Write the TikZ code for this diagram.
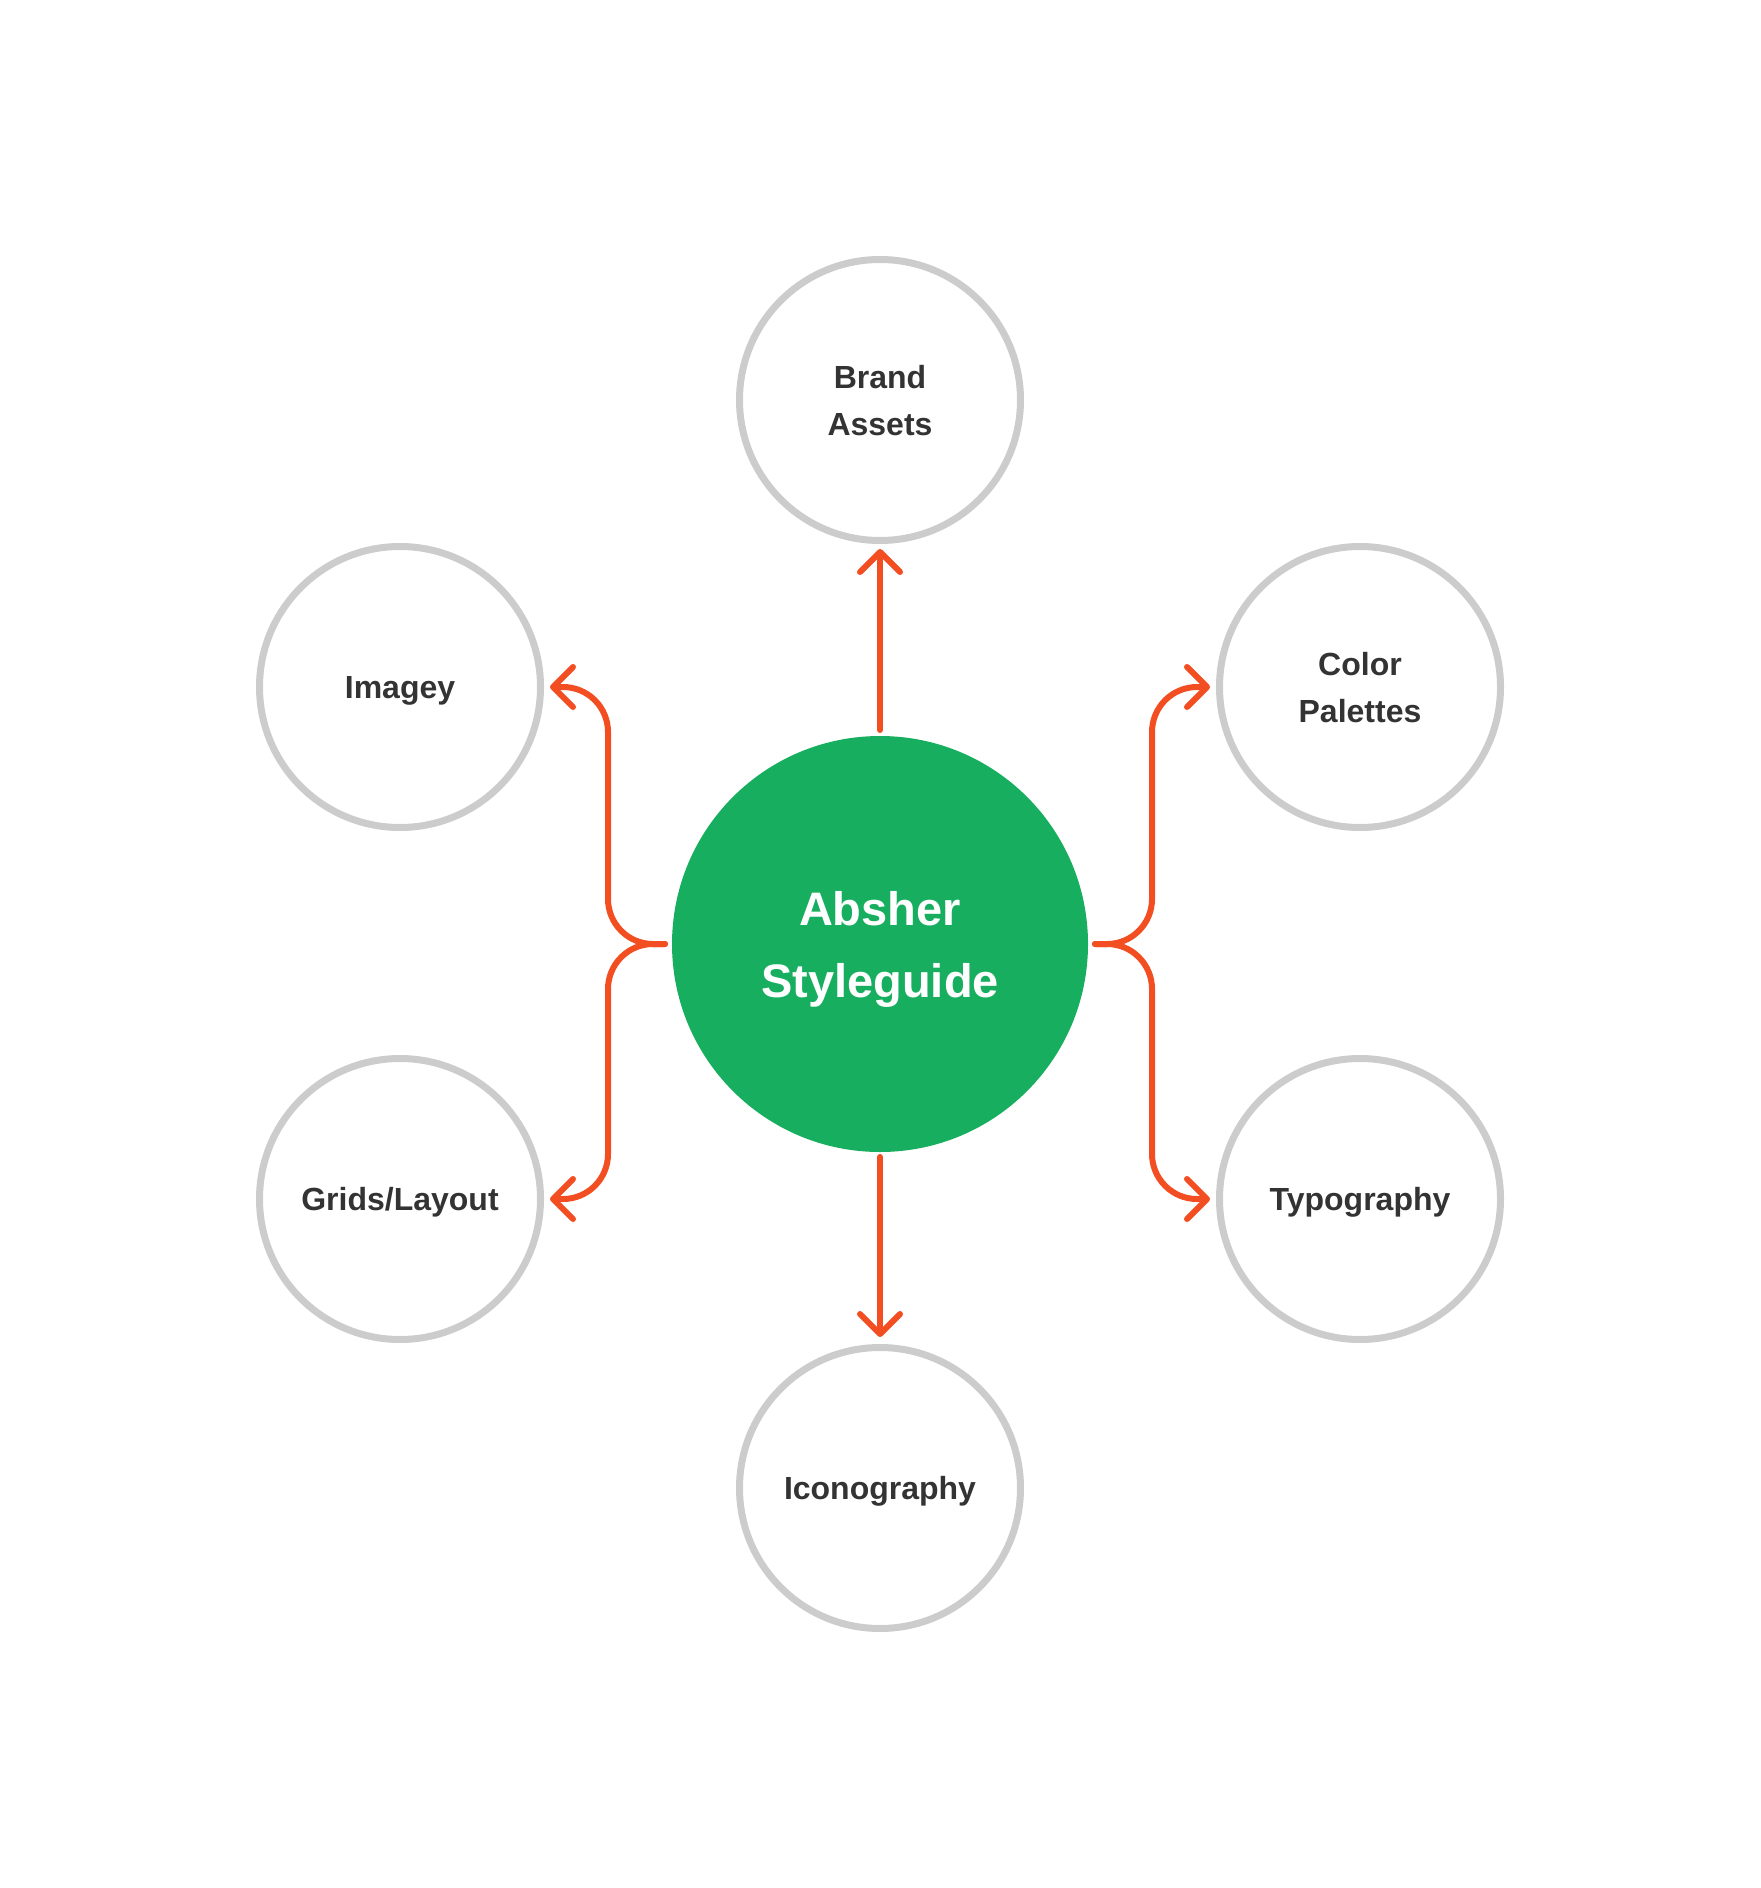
\documentclass[tikz,border=0pt]{standalone}
\usepackage{fontspec}
\setmainfont{Liberation Sans}
\usetikzlibrary{arrows.meta, positioning}
\definecolor{hubgreen}{HTML}{17AF5F}
\definecolor{ringgray}{HTML}{CCCCCC}
\definecolor{linkorange}{HTML}{F24E22}
\definecolor{labelgray}{HTML}{333333}

\begin{document}
\begin{tikzpicture}[x=0.5pt, y=-0.5pt, on grid,
    hub/.style={circle, fill=hubgreen, minimum size=208pt, outer sep=0pt, text=white,
      font=\fontsize{23.5}{36}\selectfont\bfseries, align=center, text depth=0pt},
    leaf/.style={circle, draw=ringgray, line width=3.5pt, minimum size=140.5pt, text=labelgray,
      font=\fontsize{16}{23.5}\selectfont\bfseries, align=center, text depth=0pt},
    link/.style={draw=linkorange, line width=3pt, line cap=round, rounded corners=22.5pt,
      -{Straight Barb[length=10pt, width=20pt, round]}}]
  \useasboundingbox (0,0) rectangle (1760,1888);
  \node[hub] (hub) at (880,944) {Absher\\Styleguide};
  \node[leaf, above=272pt of hub] (brand) {Brand\\Assets};
  \node[leaf, below=272pt of hub] (icon) {Iconography};
  \node[leaf, above left=128.5pt and 240pt of hub] (imagey) {Imagey};
  \node[leaf, above right=128.5pt and 240pt of hub] (color) {Color\\Palettes};
  \node[leaf, below left=127.5pt and 240pt of hub] (grids) {Grids/Layout};
  \node[leaf, below right=127.5pt and 240pt of hub] (typo) {Typography};
  % straight links
  \draw[link] ([yshift=3pt]hub.north) -- ([yshift=-2.5pt]brand.south);
  \draw[link] ([yshift=-2.5pt]hub.south) -- ([yshift=3.5pt]icon.north);
  % brace links
  \draw[link] ([xshift=-3.5pt]hub.west) -- ++(-57,0) |- ([xshift=3pt]imagey.east);
  \draw[link] ([xshift=-3.5pt]hub.west) -- ++(-57,0) |- ([xshift=3pt]grids.east);
  \draw[link] ([xshift=3.5pt]hub.east) -- ++(57,0) |- ([xshift=-3pt]color.west);
  \draw[link] ([xshift=3.5pt]hub.east) -- ++(57,0) |- ([xshift=-3pt]typo.west);
\end{tikzpicture}
\end{document}
